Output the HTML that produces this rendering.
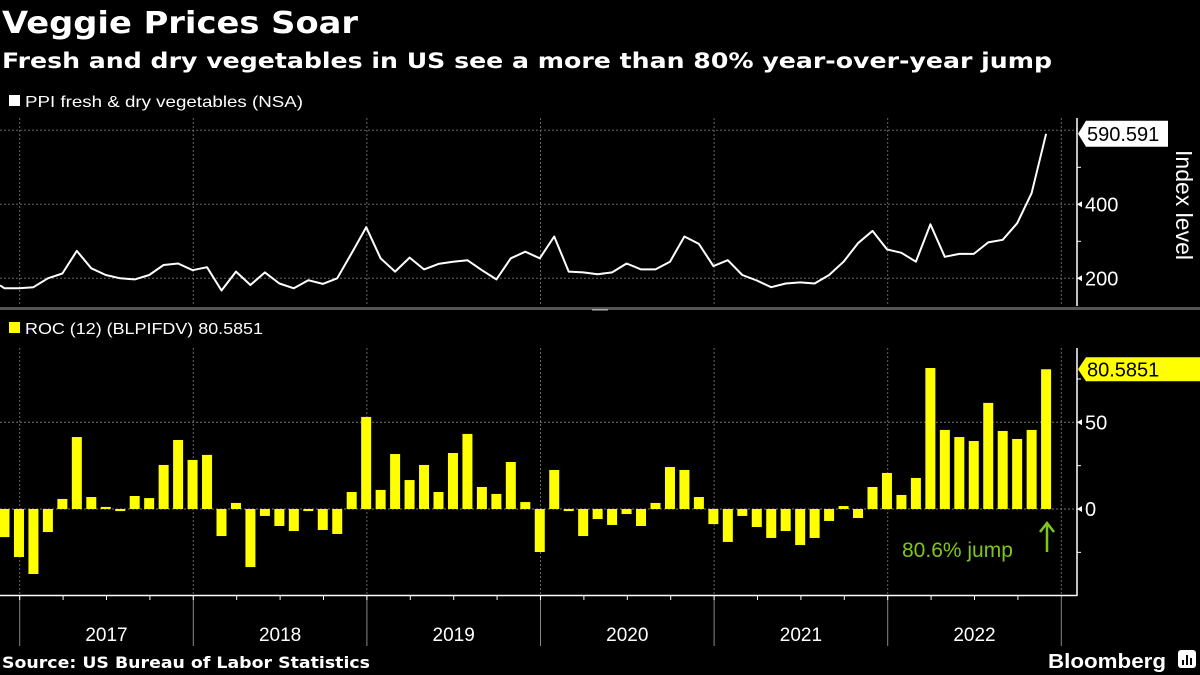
<!DOCTYPE html>
<html><head><meta charset="utf-8"><style>
html,body{margin:0;padding:0;background:#000;}
svg{display:block;}
text{font-family:"Liberation Sans",sans-serif;}
</style></head><body>
<svg id="chart" width="1200" height="675" viewBox="0 0 1200 675" xmlns="http://www.w3.org/2000/svg">
<rect width="1200" height="675" fill="#000"/>
<text x="2" y="33" fill="#fff" font-size="30" font-weight="bold" style="font-family:'DejaVu Sans',sans-serif" textLength="356" lengthAdjust="spacingAndGlyphs">Veggie Prices Soar</text>
<text x="2" y="68" fill="#fff" font-size="21" font-weight="bold" style="font-family:'DejaVu Sans',sans-serif" textLength="1050" lengthAdjust="spacingAndGlyphs">Fresh and dry vegetables in US see a more than 80% year-over-year jump</text>
<rect x="9" y="95" width="11" height="11" fill="#fff"/>
<text x="25" y="107" fill="#fff" font-size="16" textLength="278" lengthAdjust="spacingAndGlyphs">PPI fresh &amp; dry vegetables (NSA)</text>
<rect x="0" y="307" width="1200" height="3" fill="#555"/>
<rect x="592" y="309" width="16" height="1.5" fill="#aaa"/>
<rect x="9" y="322" width="11" height="11" fill="#ffff00"/>
<text x="25" y="334" fill="#fff" font-size="16" textLength="238" lengthAdjust="spacingAndGlyphs">ROC (12) (BLPIFDV) 80.5851</text>
<g id="grid"></g>
<g id="marks"></g>
<g id="axes"></g>
<text x="1176" y="205" fill="#fff" font-size="23" text-anchor="middle" transform="rotate(90 1176 205)">Index level</text>
<text x="902" y="557" fill="#7ec61b" font-size="21">80.6% jump</text>
<path d="M1047 552 L1047 524 M1040 532 L1047 523 L1054 532" stroke="#7ec61b" stroke-width="2.5" fill="none"/>
<text x="2" y="668" fill="#fff" font-size="16" font-weight="bold" style="font-family:'DejaVu Sans',sans-serif" textLength="368" lengthAdjust="spacingAndGlyphs">Source: US Bureau of Labor Statistics</text>
<text x="1048" y="668" fill="#fff" font-size="20" font-weight="bold" textLength="118" lengthAdjust="spacingAndGlyphs">Bloomberg</text>
<g><rect x="1178" y="650" width="18" height="18" rx="3" fill="#fff"/><path d="M1183 665 V660 M1187 665 V655 M1191 665 V658" stroke="#000" stroke-width="2"/></g>
</svg>
<script>
const years = ["2017","2018","2019","2020","2021","2022"];
const lineTicks = [200, 400];
const barTicks = [0, 50];
const ppiValues = [173,173,176,200,213,274,227,209,200,197,209,236,240,222,230,167,218,182,216,186,173,195,185,200,268,338,254,218,256,224,239,245,249,222,197,254,272,254,313,218,216,211,216,240,224,224,245,313,293,233,249,209,194,176,186,189,186,209,245,295,328,278,269,245,346,258,266,266,297,304,349,430,590.591];
const rocValues = [-16.2,-27.7,-37.5,-13.3,5.8,41.5,6.9,1.2,-1.2,7.5,6.3,25.4,39.8,28.3,31.2,-15.6,3.5,-33.5,-4,-9.8,-12.7,-1.2,-12.1,-14.4,9.8,53.1,11,31.7,16.7,25.4,9.8,32.3,43.3,12.7,8.7,27.1,4,-24.8,22.5,-1.2,-15.6,-5.8,-9.2,-2.9,-9.8,3.5,24.2,22.5,6.9,-8.7,-19,-4,-10.4,-16.7,-12.7,-20.8,-16.7,-6.9,1.7,-5.2,12.7,20.8,8.1,17.9,81.3,45.6,41.5,39.2,61.2,45,40.4,45.6,80.5851];
const lastPpiLabel = "590.591";
const lastRocLabel = "80.5851";

const NS = "http://www.w3.org/2000/svg";
const MONTH = 173.6/12;
function xAt(i){ return 4.5 + i*MONTH; }
function yearX(k){ return 19.7 + k*173.6; }
function yLine(v){ return 278.3 - (v-200)*0.37; }
function yBar(v){ return 509 - v*1.734; }
function mk(tag, attrs, parent){
  const e = document.createElementNS(NS, tag);
  for (const k in attrs) e.setAttribute(k, attrs[k]);
  parent.appendChild(e); return e;
}
const grid = document.getElementById('grid');
const marks = document.getElementById('marks');
const axes = document.getElementById('axes');
const AX = 1077;
for (let k=0;k<=6;k++){
  const x = yearX(k);
  let g1 = mk('line',{x1:x,x2:x,y1:118,y2:306,stroke:'#666','stroke-dasharray':'2,2'},grid);
  
  
  let g2 = mk('line',{x1:x,x2:x,y1:348,y2:595,stroke:'#666','stroke-dasharray':'2,2'},grid);
  
  
  let s = mk('line',{x1:x,x2:x,y1:595,y2:646,stroke:'#888'},axes);
  
  
}
[200,400,600].forEach(v=>{
  let l = mk('line',{x1:0,x2:AX,y1:yLine(v),y2:yLine(v),stroke:'#666','stroke-dasharray':'2,2'},grid);
  
  
});
[0,50].forEach(v=>{
  let l = mk('line',{x1:0,x2:AX,y1:yBar(v),y2:yBar(v),stroke:'#777','stroke-dasharray':'2,2'},grid);
  
  
});
rocValues.forEach((v,i)=>{
  const y0 = yBar(0), y1 = yBar(v);
  let r = mk('rect',{x:xAt(i)-5,y:Math.min(y0,y1),width:10,height:Math.abs(y1-y0),fill:'#ffff00'},marks);
  
  
});
let d = 'M0 ' + (yLine(ppiValues[0])-3).toFixed(1) + ' ' + ppiValues.map((v,i)=>'L'+xAt(i).toFixed(1)+' '+yLine(v).toFixed(1)).join(' ');
let p = mk('path',{d:d,stroke:'#fff','stroke-width':2,fill:'none','stroke-linejoin':'round'},marks);


let a1 = mk('line',{x1:AX,x2:AX,y1:118,y2:306,stroke:'#fff','stroke-width':1.5},axes);


let a2 = mk('line',{x1:AX,x2:AX,y1:348,y2:596,stroke:'#fff','stroke-width':1.5},axes);


let xa = mk('line',{x1:0,x2:AX,y1:595.5,y2:595.5,stroke:'#fff','stroke-width':1.5},axes);


for (let q=0;q<=24;q++){
  const x = yearX(0) - 173.6/4 + q*173.6/4;
  if (x<0||x>AX) continue;
  let t = mk('line',{x1:x,x2:x,y1:595,y2:600,stroke:'#fff'},axes);
  
  
}
years.forEach((y,k)=>{
  let t = mk('text',{x:(yearX(k)+yearX(k+1))/2,y:641,fill:'#fff','font-size':19,'text-anchor':'middle'},axes);
  t.textContent = y;
  
  
});
[300,500].forEach(v=>{ mk('line',{x1:AX,x2:AX+4,y1:yLine(v),y2:yLine(v),stroke:'#fff'},axes); });
lineTicks.forEach(v=>{
  mk('path',{d:`M${AX} ${yLine(v)} l5 -3 v6 z`,fill:'#fff'},axes);
  let t = mk('text',{x:AX+8,y:yLine(v)+7,fill:'#fff','font-size':20},axes);
  t.textContent = v;
  
  
});
[25,-25,75].forEach(v=>{ mk('line',{x1:AX,x2:AX+4,y1:yBar(v),y2:yBar(v),stroke:'#fff'},axes); });
barTicks.forEach(v=>{
  mk('path',{d:`M${AX} ${yBar(v)} l5 -3 v6 z`,fill:'#fff'},axes);
  let t = mk('text',{x:AX+8,y:yBar(v)+7,fill:'#fff','font-size':20},axes);
  t.textContent = v;
  
  
});
const ly = yLine(ppiValues[ppiValues.length-1]);
let tag1 = mk('path',{d:`M${AX+1} ${ly} L${AX+9} ${ly-13} H1168 V${ly+13} H${AX+9} Z`,fill:'#fff'},axes);


let tt1 = mk('text',{x:AX+10,y:ly+7,fill:'#000','font-size':20},axes);
tt1.textContent = lastPpiLabel;


const by = yBar(rocValues[rocValues.length-1]);
let tag2 = mk('path',{d:`M${AX+1} ${by} L${AX+9} ${by-12} H1200 V${by+12} H${AX+9} Z`,fill:'#ffff00'},axes);


let tt2 = mk('text',{x:AX+10,y:by+7,fill:'#000','font-size':20},axes);
tt2.textContent = lastRocLabel;


</script>
</body></html>
